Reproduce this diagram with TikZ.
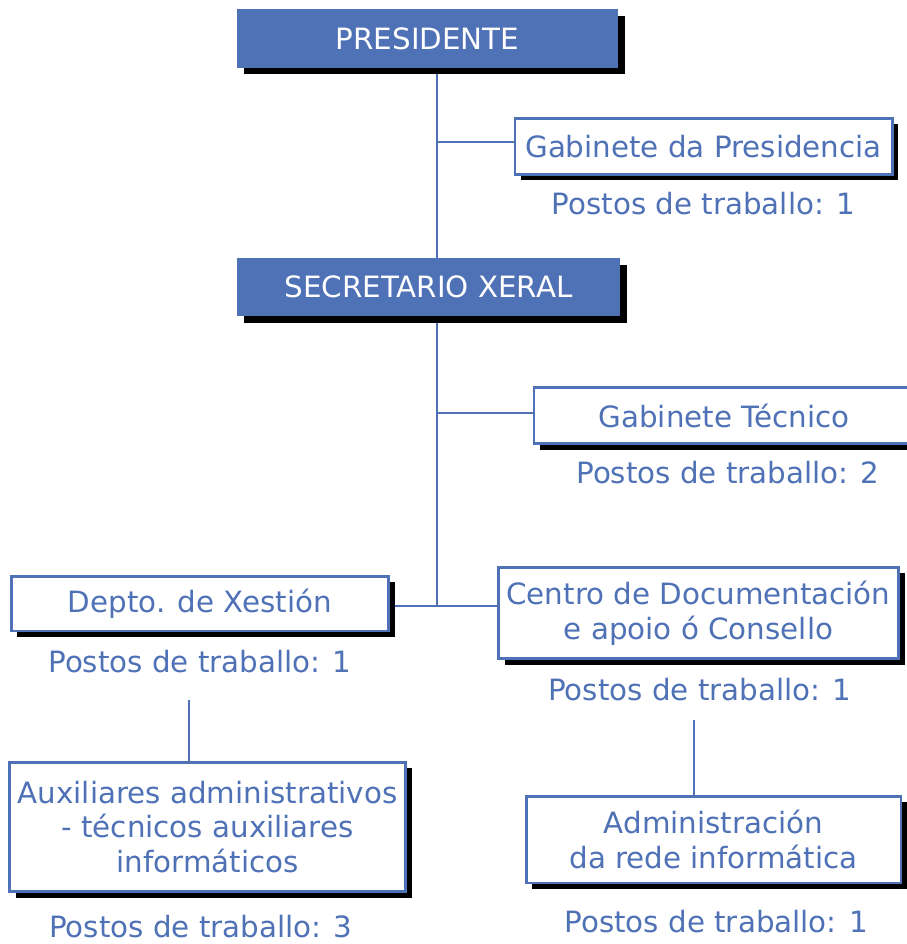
\documentclass[tikz,border=0pt]{standalone}
\usepackage{fontspec}
\setmainfont{DejaVu Sans}
\usetikzlibrary{positioning,shadows,backgrounds}
\definecolor{orgblue}{HTML}{4F71B6}

\begin{document}
\begin{tikzpicture}[x=0.75pt,y=-0.75pt,
  font=\fontsize{22}{26}\selectfont,node distance=12pt,
  head/.style={rectangle,fill=orgblue,text=white,
    general shadow={fill=black,shadow xshift=5pt,shadow yshift=-5pt}},
  unit/.style={rectangle,draw=orgblue,fill=white,text=orgblue,align=center,line width=2pt,
    general shadow={fill=black,shadow xshift=4.5pt,shadow yshift=-4.5pt}},
  posts/.style={inner sep=0pt,text=orgblue},
  link/.style={draw=orgblue,line width=1.8pt}]
   \useasboundingbox (0,0) rectangle (906,944);
   \node[head] (pres) at (427.5,38.5) [minimum width=286pt,minimum height=44pt] {PRESIDENTE};
   \node[unit] (gab_p) at (703.5,146.5) [minimum width=283pt,minimum height=42pt] {Gabinete da Presidencia};
   \node[head] (sec) at (428.5,287) [minimum width=287pt,minimum height=43.5pt] {SECRETARIO XERAL};
   \node[unit] (gab_t) at (724,415.5) [minimum width=285pt,minimum height=42pt] {Gabinete Técnico};
   \node[unit] (dep_x) at (200,603.5) [minimum width=283pt,minimum height=41pt] {Depto. de Xestión};
   \node[unit] (c_doc) at (698.5,613) [minimum width=300pt,minimum height=68.5pt] {Centro de Documentación\\e apoio ó Consello};
   \node[unit] (aux) at (207.5,827) [minimum width=297pt,minimum height=97pt] {Auxiliares administrativos\\- técnicos auxiliares\\informáticos};
   \node[unit] (adm) at (713.5,839.5) [minimum width=281pt,minimum height=65pt] {Administración\\da rede informática};
   \node[posts] (p_gab_p) [below=of gab_p] {Postos de traballo: 1};
   \node[posts] (p_gab_t) [below=of gab_t,xshift=3pt] {Postos de traballo: 2};
   \node[posts] (p_dep_x) [below=13pt of dep_x] {Postos de traballo: 1};
   \node[posts] (p_c_doc) [below=13.5pt of c_doc,xshift=1pt] {Postos de traballo: 1};
   \node[posts] (p_aux) [below=16.5pt of aux,xshift=-5pt] {Postos de traballo: 3};
   \node[posts] (p_adm) [below=19pt of adm,xshift=2pt] {Postos de traballo: 1};
   \coordinate (spine) at (437,0);
   \coordinate (aux_in) at (189,700);
   \coordinate (adm_in) at (694,720);
   \coordinate (gab_p_in) at ([yshift=3.4pt]gab_p.west);
   \coordinate (gab_t_in) at ([yshift=1.9pt]gab_t.west);
   \coordinate (dep_x_out) at ([yshift=-1.9pt]dep_x.east);
   \begin{scope}[on background layer]
    \draw[link] (pres.south -| spine) -- (sec.north -| spine);
    \draw[link] (gab_p_in) -- (gab_p_in -| spine);
    \draw[link] (sec.south -| spine) -- (dep_x_out -| spine);
    \draw[link] (gab_t_in) -- (gab_t_in -| spine);
    \draw[link] (dep_x_out) -- (c_doc.west |- dep_x_out);
    \draw[link] (aux_in) -- (aux_in |- aux.north);
    \draw[link] (adm_in) -- (adm_in |- adm.north);
   \end{scope}
\end{tikzpicture}
\end{document}
